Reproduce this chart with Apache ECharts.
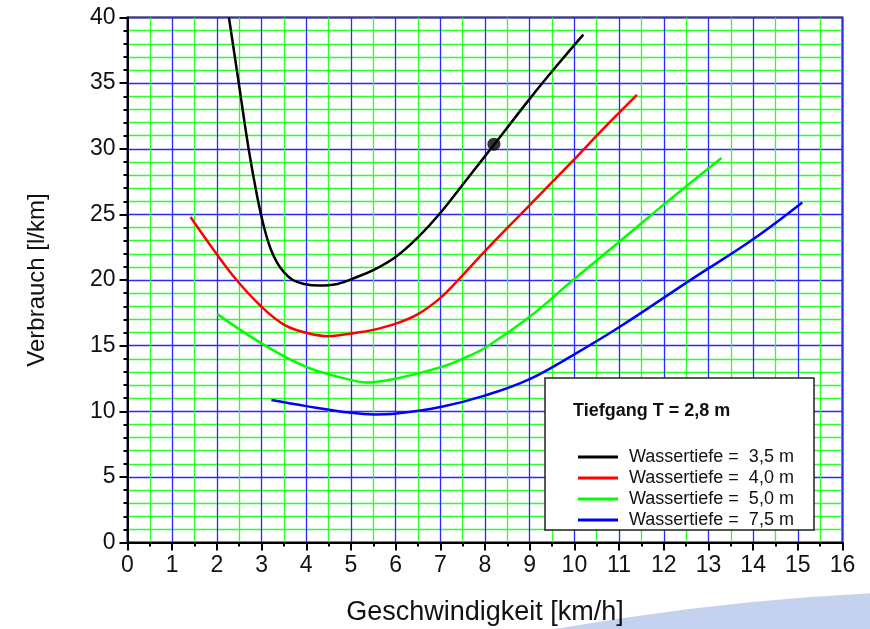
<!DOCTYPE html>
<html>
<head>
<meta charset="utf-8">
<script src="https://cdn.jsdelivr.net/npm/echarts@6/dist/echarts.min.js"></script>
<style>
  html, body { margin: 0; padding: 0; background: #fff; }
  #chart { width: 870px; height: 629px; }
</style>
</head>
<body>
<div id="chart"></div>
<script>
// Geschwindigkeit [km/h] / Verbrauch [l/km]
var seriesNames = ["Wassertiefe =  3,5 m", "Wassertiefe =  4,0 m", "Wassertiefe =  5,0 m", "Wassertiefe =  7,5 m"];
var seriesColors = ["#000000", "#ff0000", "#00ff00", "#0000ff"];

var x35 = [2.27, 2.49, 2.71, 2.9, 3.05, 3.2, 3.35, 3.5, 3.7, 3.95, 4.3, 4.5, 4.7, 4.85, 5.0, 5.5, 6.0, 6.5, 7.0, 7.6, 8.2, 9.0, 9.6, 10.2];
var y35 = [40, 35, 30, 26.4, 24.1, 22.4, 21.3, 20.6, 20.0, 19.7, 19.58, 19.6, 19.7, 19.85, 20.05, 20.75, 21.75, 23.25, 25.1, 27.7, 30.3, 33.8, 36.3, 38.7];

var x40 = [1.41, 1.99, 2.44, 3.0, 3.52, 4.0, 4.49, 5.01, 5.5, 6.02, 6.5, 6.99, 7.4, 8.0, 9.0, 9.97, 10.7, 11.4];
var y40 = [24.8, 22.0, 20.0, 17.96, 16.56, 15.98, 15.72, 15.93, 16.2, 16.69, 17.4, 18.6, 20.0, 22.2, 25.7, 29.1, 31.7, 34.1];

var x50 = [2.01, 3.0, 4.0, 5.01, 5.35, 6.02, 7.03, 7.5, 8.03, 9.0, 9.97, 11.0, 12.02, 13.29];
var y50 = [17.4, 15.17, 13.38, 12.37, 12.2, 12.5, 13.38, 14.0, 14.9, 17.2, 20.0, 22.9, 25.8, 29.3];

var x75 = [3.22, 4.0, 5.01, 5.53, 6.02, 7.03, 8.03, 9.0, 9.97, 11.0, 12.62, 14.0, 15.1];
var y75 = [10.85, 10.39, 9.88, 9.76, 9.83, 10.34, 11.23, 12.45, 14.28, 16.4, 20.05, 23.1, 25.9];

// markierter Punkt auf der 3,5 m Kurve
var markX = [8.2];
var markY = [30.35];

var xTicks = [0, 16, 1];   // min, max, interval
var yTicks = [0, 40, 5];

function pairs(xs, ys) {
  var out = [];
  for (var i = 0; i < xs.length; i++) out.push([xs[i], ys[i]]);
  return out;
}

var font = "Arial, 'Liberation Sans', sans-serif";
var curves = [[x35, y35], [x40, y40], [x50, y50], [x75, y75]];

var series = curves.map(function (c, i) {
  return {
    name: seriesNames[i],
    type: "line",
    data: pairs(c[0], c[1]),
    smooth: 0.4,
    showSymbol: false,
    lineStyle: { color: seriesColors[i], width: 2.5 },
    itemStyle: { color: seriesColors[i] },
    z: 5
  };
});
series.push({
  name: "punkt",
  type: "scatter",
  data: pairs(markX, markY),
  symbolSize: 13,
  itemStyle: { color: "#000" },
  z: 6
});

var myChart = echarts.init(document.getElementById("chart"));
myChart.setOption({
  animation: false,
  textStyle: { fontFamily: font },
  grid: {
    left: 127.5, right: 27.5, top: 17.5, bottom: 86.5,
    outerBoundsMode: "none",
    show: true, borderColor: "#222", borderWidth: 2, backgroundColor: "transparent"
  },
  legend: {
    data: seriesNames,
    orient: "vertical",
    left: 573, top: 443, z: 20,
    itemWidth: 40, itemHeight: 3, itemGap: 3,
    icon: "rect",
    textStyle: { fontSize: 18, color: "#111", fontFamily: font, padding: [0, 0, 0, 6] }
  },
  xAxis: {
    type: "value",
    min: xTicks[0], max: xTicks[1], interval: xTicks[2],
    name: "Geschwindigkeit [km/h]",
    nameLocation: "middle",
    nameGap: 57,
    nameTextStyle: { fontSize: 27, color: "#111" },
    axisLine: { lineStyle: { color: "#000", width: 2 } },
    axisTick: { inside: false, length: 8, lineStyle: { color: "#000", width: 2 } },
    minorTick: { show: true, splitNumber: 2, length: 4, lineStyle: { color: "#000", width: 2 } },
    axisLabel: { fontSize: 23, color: "#111", margin: 12 },
    splitLine: { show: true, lineStyle: { color: "#2a2aff", width: 1.3 } },
    minorSplitLine: { show: true, lineStyle: { color: "#2aff2a", width: 1.3 } }
  },
  yAxis: {
    type: "value",
    min: yTicks[0], max: yTicks[1], interval: yTicks[2],
    name: "Verbrauch [l/km]",
    nameLocation: "middle",
    nameGap: 78,
    nameTextStyle: { fontSize: 24, color: "#111" },
    axisLine: { lineStyle: { color: "#000", width: 2 } },
    axisTick: { inside: false, length: 8, lineStyle: { color: "#000", width: 2 } },
    minorTick: { show: true, splitNumber: 5, length: 4, lineStyle: { color: "#000", width: 2 } },
    axisLabel: { fontSize: 23, color: "#111", margin: 12 },
    splitLine: { show: true, lineStyle: { color: "#2a2aff", width: 1.3 } },
    minorSplitLine: { show: true, lineStyle: { color: "#2aff2a", width: 1.3 } }
  },
  graphic: [
    {
      type: "circle",
      z: -10,
      shape: { cx: 1000, cy: 3143, r: 2553 },
      style: { fill: "#c5d2ef" }
    },
    {
      type: "rect",
      z: 8,
      shape: { x: 545, y: 378, width: 269, height: 152 },
      style: { fill: "#fff", stroke: "#222", lineWidth: 1.5 }
    },
    {
      type: "text",
      z: 21,
      left: 573, top: 402,
      style: { text: "Tiefgang T = 2,8 m", font: "bold 18px " + font, fill: "#111" }
    }
  ],
  series: series
});
</script>
</body>
</html>
